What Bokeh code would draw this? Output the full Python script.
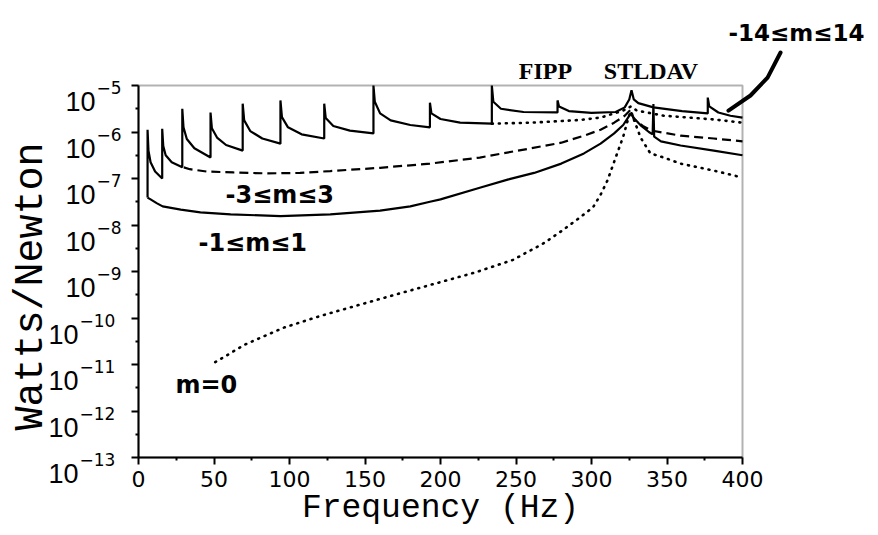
import numpy as np
from bokeh.plotting import figure
from bokeh.models import Range1d, FixedTicker, Label, BoxAnnotation, CustomJSTickFormatter
from bokeh.embed import file_html
from bokeh.resources import INLINE

# ---------------- data (frequency in Hz, power as log10 W/N) ----------------
x_ticks = [0, 50, 100, 150, 200, 250, 300, 350, 400]
x_minor = [25, 75, 125, 175, 225, 275, 325, 375]
y_exponents = [-5, -6, -7, -8, -9, -10, -11, -12, -13]

# -14 <= m <= 14 (solid, with cut-on resonances)
f_m14 = [6.0, 6.0, 6.6, 8, 11, 15.7,
         15.7, 16.4, 18, 22, 29,
         29, 29.8, 32, 37, 47.7,
         47.7, 48.6, 52, 58, 69,
         69, 70, 74, 82, 94,
         94, 95, 99, 108, 123,
         123, 124, 129, 140, 155.6,
         155.6, 156.5, 160, 167, 180, 193,
         193, 194, 200, 213, 234,
         234, 235, 240, 255, 277.5,
         277.5, 278.5, 285, 300, 316, 322, 325, 326.5, 328, 331, 341, 360, 377,
         377, 378, 384, 392, 400]
p_m14 = [-7.41, -5.95, -6.4, -6.65, -6.85, -7.0,
         -5.93, -6.3, -6.5, -6.65, -6.76,
         -5.5, -5.9, -6.15, -6.35, -6.55,
         -5.58, -5.92, -6.12, -6.28, -6.4,
         -5.39, -5.75, -5.98, -6.14, -6.25,
         -5.32, -5.68, -5.9, -6.05, -6.14,
         -5.39, -5.7, -5.87, -5.97, -6.03,
         -5.0, -5.35, -5.6, -5.75, -5.85, -5.9,
         -5.37, -5.6, -5.72, -5.8, -5.82,
         -5.0, -5.35, -5.5, -5.57, -5.58,
         -5.32, -5.45, -5.55, -5.59, -5.57, -5.47, -5.3, -5.1, -5.3, -5.38, -5.47, -5.55, -5.6,
         -5.26, -5.45, -5.58, -5.65, -5.69]

# upper dotted branch
f_up = [234, 260, 293, 306, 321, 326, 330, 348, 381, 400]
p_up = [-5.82, -5.8, -5.74, -5.69, -5.54, -5.45, -5.54, -5.65, -5.73, -5.8]

# -3 <= m <= 3 (dashed)
f_m3 = [30, 34, 45, 63, 85, 107, 127, 160, 193, 226, 260, 280, 295, 306, 315, 322, 326,
        328, 334, 340, 359, 381, 400]
p_m3 = [-6.76, -6.8, -6.85, -6.87, -6.89, -6.88, -6.84, -6.77, -6.68, -6.55, -6.35, -6.23,
        -6.08, -5.95, -5.8, -5.65, -5.52, -5.72, -5.87, -5.97, -6.08, -6.14, -6.2]

# -1 <= m <= 1 (solid)
f_m1 = [6.0, 8, 12, 16, 28, 41, 61, 94, 127, 160, 180, 193, 200, 226, 245, 262, 280, 295,
        306, 315, 321, 324, 326, 328, 333, 338, 340.5, 341, 341.5, 346, 359, 381, 400]
p_m1 = [-7.41, -7.45, -7.53, -7.6, -7.67, -7.73, -7.77, -7.81, -7.77, -7.69, -7.6, -7.5,
        -7.45, -7.2, -7.02, -6.88, -6.68, -6.46, -6.25, -6.03, -5.85, -5.7, -5.6, -5.7,
        -5.87, -6.0, -6.05, -5.4, -6.1, -6.2, -6.29, -6.4, -6.5]

# m = 0 (dotted)
f_m0 = [50.8, 70.6, 96, 121, 147, 172, 197.5, 223, 248, 268.5, 281, 291, 301, 306, 310.6,
        317, 321, 324.5, 326, 332.5, 339, 348, 359, 381, 400]
p_m0 = [-10.95, -10.57, -10.21, -9.95, -9.71, -9.48, -9.25, -9.02, -8.75, -8.39, -8.11,
        -7.87, -7.62, -7.35, -7.04, -6.46, -6.1, -5.69, -5.55, -6.12, -6.46, -6.55, -6.68,
        -6.83, -6.98]

# leader line from the "-14<=m<=14" note (Hz, log10)
lead_f = [425.2, 416.6, 405.3, 390.7]
lead_p = [-4.29, -4.83, -5.215, -5.54]

# ---------------- layout (pixels) ----------------
W, H = 870, 527
BOX_L, BOX_R, BOX_T, BOX_B = 138, 742, 85, 457
X0, X1 = 0.0, 400.0
E0, E1 = -13.0, -5.0
ppx = (BOX_R - BOX_L) / (X1 - X0)
ppe = (BOX_B - BOX_T) / (E1 - E0)
xr = Range1d(X0 - BOX_L / ppx, X1 + (W - BOX_R) / ppx)
yr = Range1d(10.0 ** (E0 - (H - BOX_B) / ppe), 10.0 ** (E1 + BOX_T / ppe))

p = figure(width=W, height=H, x_range=xr, y_range=yr, y_axis_type="log",
           output_backend="svg", toolbar_location=None, min_border=0)
p.background_fill_color = "white"
p.border_fill_color = "white"
p.outline_line_color = None
p.xgrid.visible = False
p.ygrid.visible = False

def lin(v):
    return [10.0 ** e for e in v]

# plot box
p.add_layout(BoxAnnotation(left=X0, right=X1, bottom=10.0 ** E0, top=10.0 ** E1,
                           fill_alpha=0, line_color="black", line_width=2))

lw = 2.2
p.line(f_m14, lin(p_m14), line_color="black", line_width=lw)
p.line(f_up, lin(p_up), line_color="black", line_width=2.6, line_dash="1 6", line_cap="round")
p.line(f_m3, lin(p_m3), line_color="black", line_width=lw, line_dash="9 5")
p.line(f_m1, lin(p_m1), line_color="black", line_width=lw)
p.line(f_m0, lin(p_m0), line_color="black", line_width=2.6, line_dash="1 6", line_cap="round")

# leader line
p.line(lead_f, lin(lead_p), line_color="black", line_width=4, line_cap="round",
       line_join="round")

# axes pinned to the plot box
xa = p.xaxis[0]
ya = p.yaxis[0]
xa.fixed_location = 10.0 ** E0
xa.bounds = (X0, X1)
ya.fixed_location = X0
ya.bounds = (10.0 ** E0, 10.0 ** E1)
for ax in (xa, ya):
    ax.axis_line_width = 2
    ax.axis_line_color = "black"
    ax.major_tick_line_width = 2
    ax.major_tick_line_color = "black"
    ax.minor_tick_line_width = 2
    ax.minor_tick_line_color = "black"
    ax.major_tick_out = 7
    ax.major_tick_in = 0
    ax.minor_tick_out = 3
    ax.minor_tick_in = 0

xa.ticker = FixedTicker(ticks=x_ticks, minor_ticks=x_minor)
xa.major_label_text_font = "DejaVu Sans"
xa.major_label_text_font_size = "22px"
xa.major_label_text_color = "black"
xa.major_label_standoff = 6

ya.ticker = FixedTicker(ticks=lin(y_exponents),
                        minor_ticks=lin([e - 0.5 for e in y_exponents[:-1]]))
ya.formatter = CustomJSTickFormatter(code="return ''")

# y tick labels 10^-n
for e in y_exponents:
    two = abs(e) >= 10
    bx = -60 if two else -43
    p.add_layout(Label(x=X0, y=10.0 ** e, x_offset=bx, y_offset=-16, text="10",
                       text_align="right", text_baseline="alphabetic",
                       text_font="Liberation Sans", text_font_size="27px", text_color="black"))
    p.add_layout(Label(x=X0, y=10.0 ** e, x_offset=bx + 1, y_offset=-2, text="\u2212%d" % abs(e),
                       text_align="left", text_baseline="alphabetic",
                       text_font="DejaVu Sans", text_font_size="17px", text_color="black"))

# axis titles
p.add_layout(Label(x=(X0 + X1) / 2, y=10.0 ** E0, y_offset=-51, text="Frequency (Hz)",
                   text_align="center", text_baseline="alphabetic",
                   text_font="Liberation Mono", text_font_size="33px", text_color="black"))
p.add_layout(Label(x=X0, y=1e-9, x_offset=-107, y_offset=-15, text="Watts/Newton",
                   angle=np.pi / 2, text_align="center", text_baseline="alphabetic",
                   text_font="Liberation Mono", text_font_size="40px", text_color="black"))

# station names
for name, f in (("FIPP", 269.5), ("STLDAV", 339.4)):
    p.add_layout(Label(x=f, y=10.0 ** E1, y_offset=15, text=name, text_align="center",
                       text_baseline="alphabetic", text_font="Liberation Serif",
                       text_font_style="bold", text_font_size="24px", text_color="black"))

# curve notes
notes = [("-3\u2264m\u22643", 57.6, -7.52),
         ("-1\u2264m\u22641", 39.7, -8.55),
         ("m=0", 24.5, -11.62)]
for t, f, e in notes:
    p.add_layout(Label(x=f, y=10.0 ** e, y_offset=8, text=t, text_align="left",
                       text_baseline="alphabetic", text_font="DejaVu Sans",
                       text_font_style="bold", text_font_size="24px", text_color="black"))
p.add_layout(Label(x=390.7, y=10.0 ** E1, y_offset=53, text="-14\u2264m\u226414",
                   text_align="left", text_baseline="alphabetic", text_font="DejaVu Sans",
                   text_font_style="bold", text_font_size="23px", text_color="black"))

open("out.html", "w").write(file_html(p, INLINE))
